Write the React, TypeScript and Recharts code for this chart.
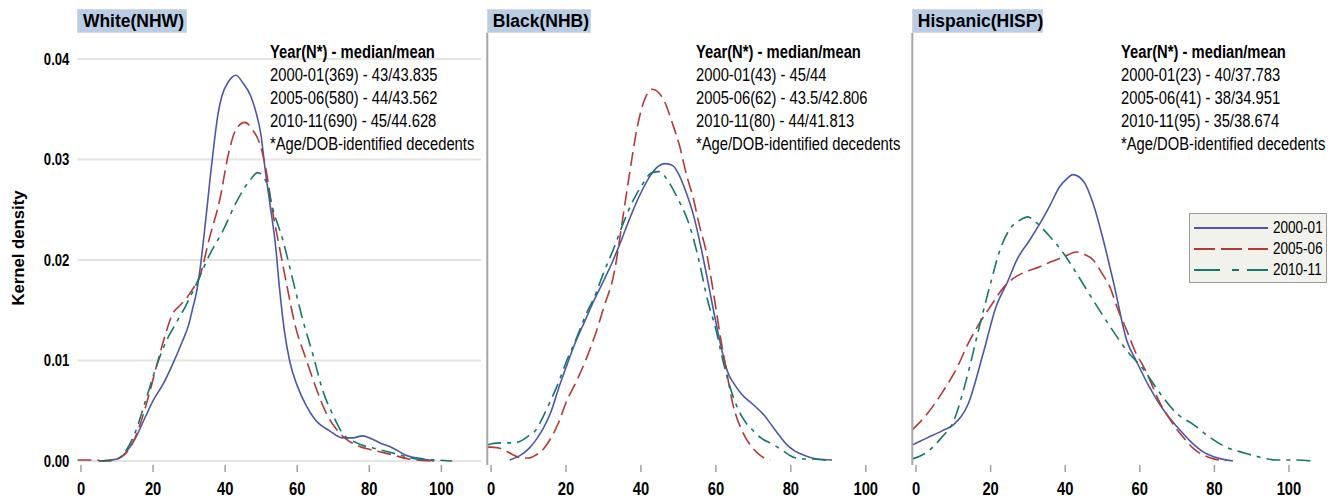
import React from "react";
import { LineChart, Line, XAxis, YAxis, CartesianGrid } from "recharts";

const FONT = "'Liberation Sans', Arial, sans-serif";
const NARROW = 0.82;

const years = ["2000-01", "2005-06", "2010-11"];
const colors = ["#4b58a8", "#b23b36", "#15786b"];
const dashes = [undefined, "14 6", "14 6 4 6"];
const xTicks = [0, 20, 40, 60, 80, 100];
const yTicks = [0, 0.01, 0.02, 0.03, 0.04];

// White (NHW)
const nhwAge2000 = [5, 10, 12, 15, 18, 20, 23, 25, 28, 30, 31, 32, 33, 34, 35, 36, 37, 38, 39, 41, 43, 45, 47, 48.5, 50, 51, 52.5, 54, 55, 56.5, 58, 60, 62.5, 65, 69, 72.5, 75.5, 78, 80, 83, 86.5, 90, 95, 98];
const nhw2000 = [0, 0.0002, 0.0007, 0.0022, 0.0045, 0.006, 0.0078, 0.0093, 0.0118, 0.0137, 0.0152, 0.0167, 0.019, 0.022, 0.0253, 0.0287, 0.0318, 0.0345, 0.0362, 0.0378, 0.0384, 0.0376, 0.0364, 0.0348, 0.0323, 0.0293, 0.0254, 0.0214, 0.0175, 0.0128, 0.0098, 0.0075, 0.0055, 0.0041, 0.003, 0.0023, 0.0023, 0.0025, 0.0023, 0.0018, 0.0013, 0.0006, 0.0002, 0];
const nhwAge2005 = [-1, 2, 4, 6, 8, 10, 12, 15, 18, 21, 23, 25.5, 27.5, 29, 31, 33, 35.5, 38.5, 41, 43, 45.5, 47.5, 49.5, 51.5, 53, 55, 57, 59.5, 62.5, 65, 68, 71, 73.5, 77, 82, 86.5, 91, 97.5];
const nhw2005 = [0.0001, 0.0001, 0.0001, 0, 0, 0.0002, 0.0006, 0.0023, 0.0055, 0.0095, 0.0121, 0.0147, 0.0155, 0.0161, 0.0171, 0.0184, 0.022, 0.026, 0.0307, 0.033, 0.0337, 0.033, 0.0317, 0.0287, 0.0252, 0.0214, 0.0177, 0.0134, 0.0101, 0.0075, 0.0048, 0.0031, 0.0022, 0.0015, 0.001, 0.0006, 0.0002, 0];
const nhwAge2010 = [5, 10, 12, 15, 18, 21, 23.5, 26.5, 29, 33, 35.5, 39.5, 43, 47, 49, 51.5, 53, 56, 59, 61.5, 64.5, 67, 70, 72.5, 76.5, 82, 87.5, 93, 98.5, 103];
const nhw2010 = [0, 0.0002, 0.0008, 0.0028, 0.0061, 0.0095, 0.0118, 0.0138, 0.0154, 0.0184, 0.0204, 0.023, 0.0257, 0.028, 0.0287, 0.0277, 0.0254, 0.022, 0.0177, 0.0141, 0.0104, 0.0071, 0.0045, 0.0028, 0.0018, 0.0012, 0.0007, 0.0002, 0.0001, 0];

// Black (NHB)
const nhbAge2000 = [5, 8, 10, 12, 14, 16, 18, 20, 22.5, 25, 27.5, 30, 32.5, 35, 37.5, 40, 42.5, 44.5, 46.5, 48.5, 50, 52, 54, 56, 58, 60, 62, 63, 65, 67, 70, 73, 75, 77, 79, 81, 84, 87, 91];
const nhb2000 = [0.0001, 0.0006, 0.0012, 0.0021, 0.0033, 0.0049, 0.0072, 0.0093, 0.0118, 0.0139, 0.016, 0.0179, 0.0199, 0.0222, 0.0246, 0.0267, 0.0284, 0.0293, 0.0296, 0.0294, 0.0286, 0.0268, 0.0245, 0.0213, 0.0176, 0.0138, 0.0104, 0.009, 0.0076, 0.0066, 0.0056, 0.0045, 0.0035, 0.0025, 0.0016, 0.001, 0.0005, 0.0002, 0.0001];
const nhbAge2005 = [-1, 2, 4, 6, 8, 10, 12, 14, 16, 18, 20, 23, 25, 28, 30, 33, 35, 37, 39, 41, 43, 46, 48.5, 50.5, 52, 54, 55.5, 57.5, 59.5, 61, 63, 64.5, 67, 70, 72, 74.5];
const nhb2005 = [0.0014, 0.0013, 0.001, 0.0006, 0.0003, 0.0003, 0.0006, 0.0012, 0.0023, 0.0038, 0.0058, 0.0081, 0.0098, 0.0128, 0.0152, 0.019, 0.0238, 0.0287, 0.0332, 0.036, 0.037, 0.036, 0.0335, 0.0311, 0.0287, 0.0261, 0.0236, 0.0207, 0.0164, 0.0128, 0.0086, 0.0057, 0.003, 0.0012, 0.0005, 0.0001];
const nhbAge2010 = [-1, 2, 4, 6, 8, 10, 12, 14, 16, 18, 20, 23, 25, 28, 30, 33, 35, 38, 40, 43, 45, 47, 50, 53, 55, 58, 60, 62, 64, 66, 68, 70, 72, 75, 78, 80, 83, 86, 90];
const nhb2010 = [0.0016, 0.0018, 0.0018, 0.0018, 0.002, 0.0025, 0.0031, 0.0045, 0.0061, 0.0078, 0.0098, 0.0124, 0.0143, 0.0167, 0.0187, 0.0214, 0.0234, 0.026, 0.0273, 0.0287, 0.0288, 0.028, 0.026, 0.0234, 0.0207, 0.0157, 0.0131, 0.0098, 0.0071, 0.0051, 0.0038, 0.003, 0.0023, 0.0017, 0.001, 0.0005, 0.0002, 0.0002, 0];

// Hispanic (HISP)
const hispAge2000 = [-1, 3, 7, 10, 14, 18, 21.5, 24.5, 27, 30.5, 33, 36, 38.5, 40.5, 42, 45, 47.5, 50, 53, 56.5, 59, 62.5, 66.5, 70, 74, 77, 80, 85];
const hisp2000 = [0.0016, 0.0023, 0.003, 0.0036, 0.0057, 0.0107, 0.0154, 0.0178, 0.02, 0.022, 0.0235, 0.0255, 0.0273, 0.0281, 0.0285, 0.0278, 0.0256, 0.0223, 0.0177, 0.012, 0.01, 0.0074, 0.005, 0.0034, 0.0018, 0.0009, 0.0004, 0];
const hispAge2005 = [-1, 3, 7, 11, 14, 16.5, 20, 24, 27, 30, 33, 36, 39.5, 43, 45, 47.5, 50, 52, 54, 56.5, 59, 61, 63, 65.5, 68, 70, 72, 74.5, 77, 79, 83];
const hisp2005 = [0.0031, 0.0047, 0.0068, 0.0093, 0.0117, 0.0134, 0.0154, 0.0175, 0.0184, 0.0189, 0.0193, 0.0198, 0.0203, 0.0208, 0.0206, 0.02, 0.0186, 0.0173, 0.0152, 0.013, 0.0107, 0.0094, 0.0078, 0.0057, 0.0042, 0.0031, 0.0022, 0.0012, 0.0006, 0.0003, 0];
const hispAge2010 = [-1, 3, 7, 10, 13.5, 17, 20, 22.5, 25, 28, 30, 32, 36, 39.5, 43, 47.5, 52, 56.5, 61, 65.5, 70, 74.5, 79, 83, 88, 92, 96.5, 101, 106];
const hisp2010 = [0.0002, 0.0009, 0.0024, 0.0039, 0.0081, 0.0134, 0.0177, 0.021, 0.023, 0.024, 0.0243, 0.0238, 0.0223, 0.0207, 0.0187, 0.016, 0.0134, 0.011, 0.0091, 0.0067, 0.0047, 0.0036, 0.0023, 0.0014, 0.0008, 0.0004, 0.0001, 0.0001, 0];

const nhwNotes = ["2000-01(369) - 43/43.835", "2005-06(580) - 44/43.562", "2010-11(690) - 45/44.628"];
const nhbNotes = ["2000-01(43) - 45/44", "2005-06(62) - 43.5/42.806", "2010-11(80) - 44/41.813"];
const hispNotes = ["2000-01(23) - 40/37.783", "2005-06(41) - 38/34.951", "2010-11(95) - 35/38.674"];

const toPoints = (ages: number[], vals: number[]) => ages.map((age, i) => ({ age, d: vals[i] }));

// narrow text like Arial Narrow: Liberation Sans squeezed horizontally
const NarrowTick = (props: any) => {
  const { x, y, payload, textAnchor, size, dy, fmt } = props;
  return (
    <text
      transform={`translate(${x},${y}) scale(${NARROW},1)`}
      textAnchor={textAnchor}
      dy={dy}
      fontSize={size}
      fontFamily={FONT}
      fontWeight="bold"
      fill="#000"
    >
      {fmt ? fmt(payload.value) : payload.value}
    </text>
  );
};

const legendDash = [undefined, "21 6", "26 12 7 8"];

const LegendBox = () => (
  <div
    style={{
      position: "absolute",
      left: 1189,
      top: 213,
      width: 138,
      height: 70,
      boxSizing: "border-box",
      background: "#f2f2ec",
      border: "1px solid #9a9a9a",
      fontFamily: FONT,
      fontSize: 16.5,
      color: "#000",
      paddingTop: 3,
    }}
  >
    {years.map((y, i) => (
      <div key={y} style={{ display: "flex", alignItems: "center", height: 21, whiteSpace: "nowrap" }}>
        <svg width={80} height={10} style={{ marginLeft: 3, flex: "none" }}>
          <line x1={1} y1={5} x2={75} y2={5} stroke={colors[i]} strokeWidth={1.8} strokeDasharray={legendDash[i]} />
        </svg>
        <span style={{ display: "inline-block", transform: `scaleX(${NARROW})`, transformOrigin: "left center" }}>{y}</span>
      </div>
    ))}
  </div>
);

type PanelProps = {
  left: number;
  width: number;
  axisWidth: number;
  first?: boolean;
  title: string;
  titleWidth: number;
  notesLeft: number;
  notes: string[];
  series: { age: number; d: number }[][];
};

const Panel = ({ left, width, axisWidth, first, title, titleWidth, notesLeft, notes, series }: PanelProps) => (
  <div style={{ position: "absolute", left, top: 0, width, height: 500 }}>
    <LineChart width={width} height={500} margin={{ top: 33, right: 0, bottom: 5, left: 0 }}>
      <CartesianGrid vertical={false} horizontalValues={yTicks} stroke="#e3e3e3" strokeWidth={2} />
      <XAxis
        type="number"
        dataKey="age"
        domain={[-1, 111]}
        ticks={xTicks}
        allowDataOverflow
        axisLine={false}
        tickLine={{ stroke: "#a0a0a0", strokeWidth: 1.5 }}
        tickSize={7}
        tickMargin={10}
        height={30}
        tick={<NarrowTick size={18} dy="0.71em" />}
      />
      <YAxis
        type="number"
        domain={[-0.0004, 0.0426]}
        ticks={yTicks}
        allowDataOverflow
        width={axisWidth}
        tick={first ? <NarrowTick size={16} dy="0.355em" fmt={(v: number) => v.toFixed(2)} /> : false}
        tickLine={false}
        axisLine={first ? false : { stroke: "#a6a6a6", strokeWidth: 2 }}
      />
      {series.map((pts, i) => (
        <Line
          key={years[i]}
          data={pts}
          dataKey="d"
          name={years[i]}
          type="monotone"
          stroke={colors[i]}
          strokeWidth={1.6}
          strokeDasharray={dashes[i]}
          dot={false}
          activeDot={false}
          isAnimationActive={false}
        />
      ))}
    </LineChart>
    <div
      style={{
        position: "absolute",
        left: axisWidth - 0.5,
        top: 9,
        width: titleWidth,
        height: 24,
        background: "#b9cde5",
        border: "1px solid #d4d8de",
        boxSizing: "border-box",
        fontFamily: FONT,
        fontWeight: "bold",
        fontSize: 17.5,
        lineHeight: "22px",
        paddingLeft: 5,
        color: "#000",
        whiteSpace: "nowrap",
      }}
    >
      {title}
    </div>
    <div
      style={{
        position: "absolute",
        left: notesLeft,
        top: 41,
        fontFamily: FONT,
        fontSize: 18,
        lineHeight: "23px",
        color: "#000",
        whiteSpace: "nowrap",
        transform: `scaleX(${NARROW})`,
        transformOrigin: "left top",
      }}
    >
      <div style={{ fontWeight: "bold" }}>Year(N*) - median/mean</div>
      {notes.map((n) => (
        <div key={n}>{n}</div>
      ))}
      <div>*Age/DOB-identified decedents</div>
    </div>
  </div>
);

export default function App() {
  return (
    <div style={{ position: "absolute", left: 0, top: 0, width: 1330, height: 500, background: "#fff", overflow: "hidden" }}>
      <Panel
        left={0}
        width={481}
        axisWidth={77.4}
        first
        title="White(NHW)"
        titleWidth={110}
        notesLeft={270}
        notes={nhwNotes}
        series={[toPoints(nhwAge2000, nhw2000), toPoints(nhwAge2005, nhw2005), toPoints(nhwAge2010, nhw2010)]}
      />
      <Panel
        left={486}
        width={421}
        axisWidth={1.3}
        title="Black(NHB)"
        titleWidth={104}
        notesLeft={210}
        notes={nhbNotes}
        series={[toPoints(nhbAge2000, nhb2000), toPoints(nhbAge2005, nhb2005), toPoints(nhbAge2010, nhb2010)]}
      />
      <Panel
        left={911}
        width={419}
        axisWidth={1.3}
        title="Hispanic(HISP)"
        titleWidth={131}
        notesLeft={210}
        notes={hispNotes}
        series={[toPoints(hispAge2000, hisp2000), toPoints(hispAge2005, hisp2005), toPoints(hispAge2010, hisp2010)]}
      />
      <LegendBox />
      <div
        style={{
          position: "absolute",
          left: 18.5,
          top: 247.5,
          transform: "translate(-50%, -50%) rotate(-90deg)",
          fontFamily: FONT,
          fontWeight: "bold",
          fontSize: 16.7,
          whiteSpace: "nowrap",
          color: "#000",
        }}
      >
        Kernel density
      </div>
    </div>
  );
}
